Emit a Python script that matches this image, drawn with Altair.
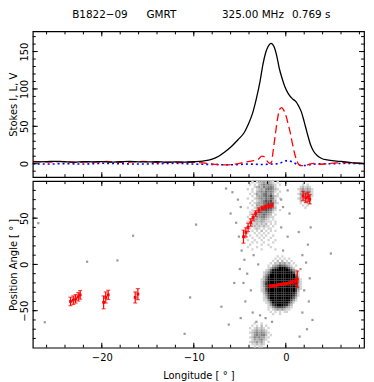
import altair as alt
import pandas as pd

# ---------------- top panel: Stokes profiles ----------------
lon_I = [-27.5,-26,-25,-24,-23,-22,-21,-20,-19,-18,-17,-16,-15,-14,-13,-12,-11,-10,-9,-8,
         -7.3,-6.6,-6,-5.2,-4.5,-4.1,-3.6,-3.2,-2.8,-2.5,-2.2,-1.95,-1.6,-1.3,-1.0,-0.7,-0.4,-0.1,0.3,0.7,
         1.1,1.4,1.7,2.0,2.3,2.7,3.0,3.4,3.9,4.5,5.5,6.5,7.5,8.5]
stokes_I = [2.5,2.8,3.2,2.6,2.2,2.8,2.4,2.9,2.1,2.6,3.0,2.5,2.3,2.6,2.0,2.4,2.2,2.6,3.5,6,
            10,16,22,32,42,52,68,87,110,132,148,156,161,157,145,127,114,103,93,87,
            83,77,69,56,42,25,17,11,7,5,3.5,2.5,1.0,0.5]

lon_L = [-27.5,-26.5,-25.5,-24.5,-23.5,-22.5,-21.5,-20.5,-19.5,-18.5,-17.5,-16.5,-15.5,-14.5,-13.5,-12.5,-11.5,-10.5,-9.5,-8.5,
         -7.5,-6.5,-5.5,-4.5,-3.5,-3.0,-2.6,-2.3,-2.0,-1.75,-1.55,-1.4,-1.15,-0.9,-0.65,-0.45,-0.2,0.05,0.25,0.46,
         0.7,0.95,1.17,1.4,1.7,2.1,2.5,3.0,3.5,4.5,5.5,6.5,7.5,8.5]
stokes_L = [3,2.5,2,3,2.5,1.8,2.5,2,3,2.2,1.8,2.5,3,2,1.5,2.2,1.5,2,1.5,0.5,
            -1,-1.5,-0.5,2,4,6,10,9,3,0.5,2,15,38,60,73,75,71,63,53,43,
            28,14,5,-1,-2.5,-2.2,-1,0.5,-1,0,1,1.5,0.5,0.5]

lon_V = [-27.5,-26,-24,-22,-20,-18,-16,-14,-12,-10,-8,-6,-4,-2.5,-1.5,-0.8,-0.3,0.2,0.6,1.0,
         1.4,2.0,2.6,3.2,4.0,5.0,6.5,8.5]
stokes_V = [0,-0.5,0,-0.5,0.5,0,-0.5,0,0.5,-0.5,-1,-1.5,-0.5,-1,-0.5,0,2.5,4.2,3,0.5,
            -2,-2.5,-1.5,-0.5,0,0,0.5,0]

# ---------------- bottom panel: position angles ----------------
pa_lon = [-4.6,-4.34,-4.1,-3.81,-3.56,-3.28,-2.92,-2.56,-2.21,-1.86,-1.5,
          -1.7,-1.4,-1.1,-0.8,-0.5,-0.2,0.1,0.4,0.7,1.0,1.25,
          1.88,2.17,2.42,2.6,
          -23.4,-23.1,-22.85,-22.56,-22.35,-19.8,-19.57,-19.3,-16.37,-16.08]
pa_val = [30,34.6,40,45.3,50.7,55,58.6,60.7,62.1,63.2,64,
          -23.5,-23,-22.6,-22,-21.6,-21,-20.5,-20,-19.4,-18.5,-16,
          74,72,73,70.4,
          -40,-38.6,-37.2,-35,-32.9,-41,-35.7,-32.9,-35.7,-32.1]
pa_err = [7,5,4.5,4,3.5,3,2.5,2,2,2,2,
          1.5,1.2,1,1,1,1,1,1.2,1.5,3,9,
          5,5,5,5,
          4.6,4.6,4.6,4.6,4.6,7,6,5,6,6]

# single-pulse PA density (grey level 0-9); each string is one PA row, high PA first
blob_rows = ["000000010100000000", "000000101010100000", "000001020201010000", "000010213231201000",
             "000102346553210100", "000124679997531000", "001258999999863100", "012479999999996210",
             "013699999999999410", "024899999999999620", "125999999999999731", "136999999999999741",
             "137999999999999831", "136999999999999741", "126999999999999631", "125999999999999620",
             "024899999999998510", "013799999999997410", "012699999999985200", "011489999999963100",
             "001259999999741000", "000136899987420000", "000113566653210000", "000101232321100000",
             "000010101011000000", "000001001000000000"]
blob_lon0, blob_pa0 = -2.75, 10
upper_rows = ["0001012232321010", "0010102343432101", "0000123243443100", "0101012324543210",
              "0001023435443101", "0010132345342010", "0001023345463210", "0100123435454101",
              "0001012346563200", "0010123345654210", "0001033346564100", "0100123455653200",
              "0001024456542101", "0011134545431000", "0010234454320100", "0101233443211000",
              "0012332332101000", "0101222321110100", "0012121212010100", "0101212121101000",
              "0010121010110000", "1001010201010100", "0100101010100000", "0010010101001000",
              "1001001010010000", "0100100100100100", "0001010010001000", "0010000100100000",
              "0100010000010000", "0001000100000100"]
upper_lon0, upper_pa0 = -4.5, 90
right_rows = ["00010100", "00121210", "01232321", "00243431", "01334421", "00232331",
              "01323220", "00212110", "00101210", "00010100", "00001000"]
right_lon0, right_pa0 = 1.0, 87.5
low_rows = ["000100100000", "001010201000", "010121210100", "001232321000", "012343432100",
            "001343442010", "012434331100", "001323421000", "012232310100", "001121210000",
            "000101100000"]
low_lon0, low_pa0 = -4.25, -62.5
cell_lon, cell_pa = 0.25, 2.5

spk_lon = [-26.9,-26.2,-21.6,-18.3,-16.6,-9.75,-10.4,-11.0,-7.0,-6.5,4.9,2.4,-4.8,-4.5,-5.0,-4.2,-4.6,-3.8,-4.4,-3.6,
           -4.9,-3.2,-2.8,-2.2,-1.5,-3.0,-3.5,1.8,2.2,1.6,2.6,2.0,2.5,1.8,2.9,2.3,1.5,2.7,1.4,-0.5,0.2,-0.3,-5.6,-6.2,
           -5.8,-5.2,-6.0,-5.4,-4.9,-5.1,-0.5,0.2,-0.3,0.4]
spk_pa = [44.6,-62.5,2.9,4.3,31,43,-35.7,-75,-45.7,82,11.8,21.4,15,5,-5,-10,-20,-28,-40,-52,
          -58,-62,-55,-58,-62,0,10,10,2,-5,-15,-28,-40,-52,-60,-70,-78,40,35,40,30,15,-20,-65,
          78,70,55,45,62,30,70,80,62,55]

x_major = [-20, -10, 0]
x_minor = list(range(-26, 9, 2))
y1_major = [0, 50, 100, 150]
y1_minor = list(range(-10, 171, 10))
y2_major = [-50, 0, 50]
y2_minor = list(range(-80, 81, 10))

W, H1, H2 = 334, 147, 168
FONT = "DejaVu Sans"

xs = alt.Scale(domain=[-27.5, 8.5], nice=False, zero=False)
ys1 = alt.Scale(domain=[-18, 177], nice=False, zero=False)
ys2 = alt.Scale(domain=[-90, 90], nice=False, zero=False)

yax1 = alt.Axis(title="Stokes I, L, V", values=y1_major, labelAngle=-90, ticks=False, tickSize=0,
                domain=False, grid=False, labelPadding=3, titlePadding=1, format="d")
yax2 = alt.Axis(title="Position Angle [ ° ]", values=y2_major, labelAngle=-90, ticks=False, tickSize=0,
                domain=False, grid=False, labelPadding=3, titlePadding=1, format="d")
xax2 = alt.Axis(title="Longitude [ ° ]", values=x_major, ticks=False, tickSize=0,
                domain=False, grid=False, labelPadding=5, titlePadding=8, format="d")


def tick_layers(xaxis, yscale, yaxis, H):
    out = []
    for vals, ln in ((x_major, 5), (x_minor, 3)):
        base = alt.Chart(pd.DataFrame({"tx": vals})).mark_rule(color="black", strokeWidth=1)
        out.append(base.encode(x=alt.X("tx:Q", scale=xs, axis=xaxis), y=alt.value(H), y2=alt.value(H - ln)))
        out.append(base.encode(x=alt.X("tx:Q", scale=xs, axis=xaxis), y=alt.value(0), y2=alt.value(ln)))
    ymaj, ymin = (y1_major, y1_minor) if yscale is ys1 else (y2_major, y2_minor)
    for vals, ln in ((ymaj, 5), (ymin, 3)):
        base = alt.Chart(pd.DataFrame({"ty": vals})).mark_rule(color="black", strokeWidth=1)
        out.append(base.encode(y=alt.Y("ty:Q", scale=yscale, axis=yaxis), x=alt.value(0), x2=alt.value(ln)))
        out.append(base.encode(y=alt.Y("ty:Q", scale=yscale, axis=yaxis), x=alt.value(W), x2=alt.value(W - ln)))
    return out


def curve(lons, vals, **mk):
    df = pd.DataFrame({"lon": lons, "val": vals})
    return alt.Chart(df).mark_line(interpolate="monotone", clip=True, **mk).encode(
        x=alt.X("lon:Q", scale=xs, axis=None),
        y=alt.Y("val:Q", scale=ys1, axis=yax1),
    )


def title_text(txt, xpos):
    return alt.Chart(pd.DataFrame({"t": [txt]})).mark_text(
        align="left", baseline="top", font=FONT, fontSize=10.5, color="black"
    ).encode(text="t:N", x=alt.value(xpos), y=alt.value(-21))


top = alt.layer(
    curve(lon_V, stokes_V, color="#0000ff", strokeWidth=1.6, strokeDash=[2, 3]),
    curve(lon_L, stokes_L, color="#ff0000", strokeWidth=1.3, strokeDash=[8, 4]),
    curve(lon_I, stokes_I, color="black", strokeWidth=1.3),
    *tick_layers(None, ys1, yax1, H1),
    title_text("B1822\u221209", 39.7),
    title_text("GMRT", 114.7),
    title_text("325.00 MHz", 190.7),
    title_text("0.769 s", 261.3),
).properties(width=W, height=H1)


def expand(rows, lon0, pa0):
    recs = []
    for i, row in enumerate(rows):
        for j, ch in enumerate(row):
            d = int(ch)
            if d > 0:
                recs.append({"x0": lon0 + j * cell_lon, "x1": lon0 + (j + 1) * cell_lon,
                             "y0": pa0 - i * cell_pa, "y1": pa0 - (i + 1) * cell_pa, "d": d})
    return recs


dens = pd.DataFrame(expand(upper_rows, upper_lon0, upper_pa0) + expand(right_rows, right_lon0, right_pa0)
                    + expand(low_rows, low_lon0, low_pa0) + expand(blob_rows, blob_lon0, blob_pa0))

dens_layer = alt.Chart(dens).mark_rect(clip=True).encode(
    x=alt.X("x0:Q", scale=xs, axis=xax2), x2="x1:Q",
    y=alt.Y("y0:Q", scale=ys2, axis=yax2), y2="y1:Q",
    color=alt.Color("d:Q", scale=alt.Scale(domain=[1, 9], range=["#d4d4d4", "#000000"]), legend=None),
)
spk_layer = alt.Chart(pd.DataFrame({"lon": spk_lon, "pa": spk_pa})).mark_square(
    size=5, color="#9a9a9a", opacity=1).encode(
    x=alt.X("lon:Q", scale=xs, axis=xax2), y=alt.Y("pa:Q", scale=ys2, axis=yax2))

pa_df = pd.DataFrame({"lon": pa_lon, "pa": pa_val, "err": pa_err})
pa_base = alt.Chart(pa_df).transform_calculate(lo="datum.pa - datum.err", hi="datum.pa + datum.err")
err_rule = pa_base.mark_rule(color="#ff0000", strokeWidth=1.2).encode(
    x=alt.X("lon:Q", scale=xs, axis=xax2), y=alt.Y("lo:Q", scale=ys2, axis=yax2), y2="hi:Q")
cap_lo = pa_base.mark_tick(color="#ff0000", orient="horizontal", size=4, thickness=1.2).encode(
    x=alt.X("lon:Q", scale=xs, axis=xax2), y=alt.Y("lo:Q", scale=ys2, axis=yax2))
cap_hi = pa_base.mark_tick(color="#ff0000", orient="horizontal", size=4, thickness=1.2).encode(
    x=alt.X("lon:Q", scale=xs, axis=xax2), y=alt.Y("hi:Q", scale=ys2, axis=yax2))
pa_pts = pa_base.mark_square(color="#ff0000", size=8, opacity=1).encode(
    x=alt.X("lon:Q", scale=xs, axis=xax2), y=alt.Y("pa:Q", scale=ys2, axis=yax2))

bottom = alt.layer(
    dens_layer, spk_layer, err_rule, cap_lo, cap_hi, pa_pts,
    *tick_layers(xax2, ys2, yax2, H2),
).properties(width=W, height=H2)

chart = alt.vconcat(top, bottom, spacing=0).properties(padding=0).configure_view(
    stroke="black", strokeWidth=1.2
).configure_axis(
    labelFont=FONT, labelFontSize=10, labelColor="black",
    titleFont=FONT, titleFontSize=10, titleFontWeight="normal", titleColor="black",
)

chart.save("out.html", embed_options={"renderer": "svg", "actions": False})
